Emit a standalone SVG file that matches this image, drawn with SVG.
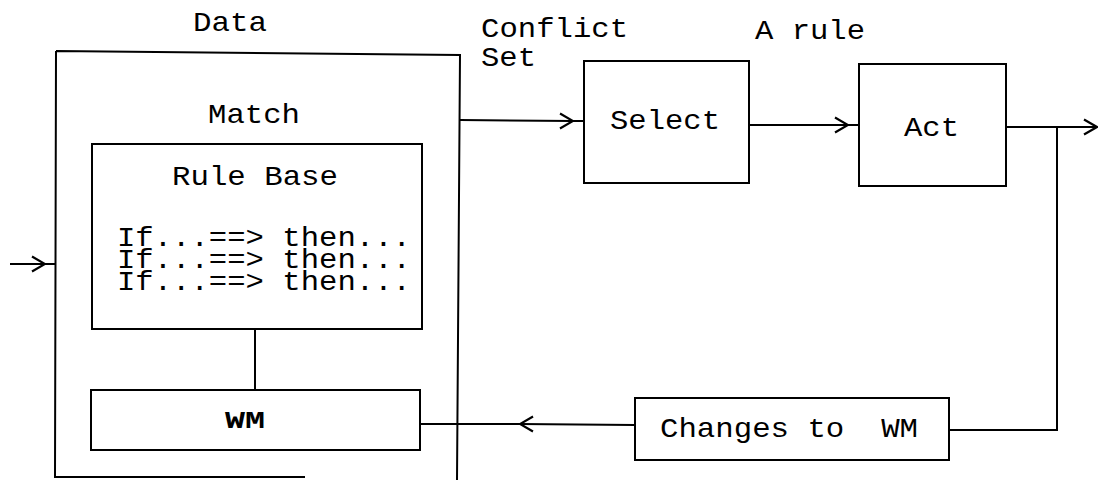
<svg xmlns="http://www.w3.org/2000/svg" width="1098" height="480" viewBox="0 0 1098 480">
  <style>
    .box { fill: none; stroke: #000; stroke-width: 2; }
    .wire { fill: none; stroke: #000; stroke-width: 2; }
    .txt { font-family: "Liberation Mono", "Courier New", monospace; font-size: 28px; fill: #000; }
    .rule { font-family: "Liberation Mono", "Courier New", monospace; font-size: 27px; fill: #000; }
    .wm { font-family: "Liberation Mono", "Courier New", monospace; font-size: 24px; font-weight: bold; fill: #000; }
  </style>
  <defs>
    <!-- open chevron arrowhead, tip at the vertex it sits on -->
    <marker id="chev" viewBox="0 0 16 18" refX="14.5" refY="9" markerWidth="16" markerHeight="18" markerUnits="userSpaceOnUse" orient="auto">
      <path d="M1.5,1.5 L14.5,9 L1.5,16.5" fill="none" stroke="#000" stroke-width="2.2"/>
    </marker>
  </defs>
  <rect width="1098" height="480" fill="#fff"/>

  <!-- labels above the flow -->
  <text class="txt" x="193" y="31" textLength="74" lengthAdjust="spacingAndGlyphs">Data</text>
  <text class="txt" x="481" y="37" textLength="147" lengthAdjust="spacingAndGlyphs">Conflict</text>
  <text class="txt" x="481" y="66" textLength="55" lengthAdjust="spacingAndGlyphs">Set</text>
  <text class="txt" x="755" y="39" textLength="110" lengthAdjust="spacingAndGlyphs">A rule</text>

  <!-- Match: outer container -->
  <g id="match">
    <path class="box" d="M56,51 L460,55 L457,480 M56,51 L55,477 L305,477"/>
    <text class="txt" x="208" y="123" textLength="92" lengthAdjust="spacingAndGlyphs">Match</text>
  </g>

  <!-- Rule base inside Match: three rules set as one block -->
  <g id="rule-base">
    <rect class="box" x="92" y="144" width="330" height="185"/>
    <text class="txt" x="172" y="185" textLength="166" lengthAdjust="spacingAndGlyphs">Rule Base</text>
    <text class="rule">
      <tspan x="117" y="246" textLength="294" lengthAdjust="spacingAndGlyphs">If...==&gt; then...</tspan>
      <tspan x="117" y="268" textLength="294" lengthAdjust="spacingAndGlyphs">If...==&gt; then...</tspan>
      <tspan x="117" y="290" textLength="294" lengthAdjust="spacingAndGlyphs">If...==&gt; then...</tspan>
    </text>
  </g>

  <!-- Working memory inside Match -->
  <g id="wm">
    <rect class="box" x="91" y="390" width="329" height="60"/>
    <text class="wm" x="225" y="428" textLength="40" lengthAdjust="spacingAndGlyphs">WM</text>
  </g>

  <g id="select">
    <rect class="box" x="584" y="61" width="165" height="122"/>
    <text class="txt" x="610" y="129" textLength="110" lengthAdjust="spacingAndGlyphs">Select</text>
  </g>

  <g id="act">
    <rect class="box" x="859" y="64" width="147" height="122"/>
    <text class="txt" x="904" y="136" textLength="55" lengthAdjust="spacingAndGlyphs">Act</text>
  </g>

  <g id="changes">
    <rect class="box" x="635" y="398" width="314" height="62"/>
    <text class="txt" x="660" y="437" textLength="258" lengthAdjust="spacingAndGlyphs">Changes to&#160; WM</text>
  </g>

  <!-- connectors -->
  <g id="connectors">
    <path class="wire" d="M10,264 L45,264 L56,264" marker-mid="url(#chev)"/>
    <path class="wire" d="M460,120 L573,121 L584,121" marker-mid="url(#chev)"/>
    <path class="wire" d="M749,125 L848,125 L859,125" marker-mid="url(#chev)"/>
    <path class="wire" d="M1006,127 L1097,127" marker-end="url(#chev)"/>
    <path class="wire" d="M1057,127 V430 H949"/>
    <path class="wire" d="M635,425 L520,424 L420,424" marker-mid="url(#chev)"/>
    <path class="wire" d="M255,329 V390"/>
  </g>
</svg>
